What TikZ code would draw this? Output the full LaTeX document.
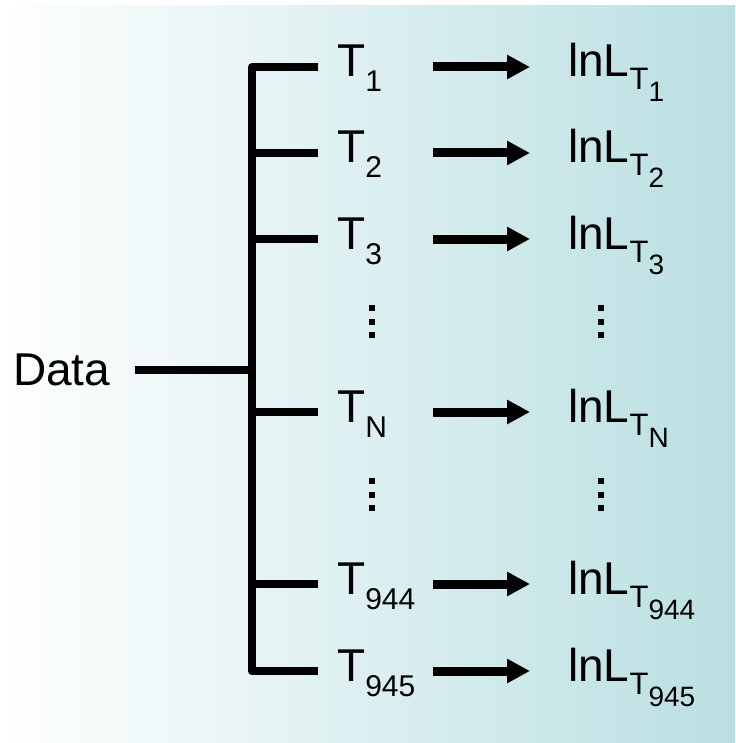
\documentclass[tikz,border=0pt]{standalone}
\usepackage{fontspec}
\setmainfont{Liberation Sans}
\usetikzlibrary{arrows.meta}
\definecolor{bgteal}{RGB}{186,223,226}
\newcommand{\bigfs}{\fontsize{46}{50}\selectfont}
\newcommand{\subT}[1]{\raisebox{-15pt}{\fontsize{30}{32}\selectfont #1}}
\newcommand{\lnLsub}[1]{lnL\raisebox{-13pt}{\fontsize{31}{32}\selectfont T\raisebox{-12pt}{\fontsize{28}{30}\selectfont #1}}}
\begin{document}
\begin{tikzpicture}[x=1pt,y=-1pt,
  lbl/.style={anchor=base west, inner sep=0pt, font=\bigfs},
  wire/.style={line width=8pt, line cap=butt},
  arr/.style={line width=9pt, -{Triangle[length=23pt,width=23pt]}},
  dot/.style={fill=black}]
\useasboundingbox (0,0) rectangle (735,743);
\fill[left color=white, right color=bgteal] (0,6) rectangle (735,743);

% data
\node[lbl] (data) at (13,385) {Data};
\coordinate (ds) at (135,370);
\coordinate (dj) at (252,370);
\draw[wire] (ds) -- (dj);

% rows
\foreach \k/\y/\s in {1/67/1, 2/153/2, 3/239/3, N/412/N, 944/584/944, 945/671/945}{
  \coordinate (b\k) at (252,\y);
  \coordinate (e\k) at (318,\y);
  \coordinate (a\k) at (433,\y);
  \coordinate (z\k) at (530,\y);
  \node[lbl] (t\k) at (337,\y+10) {T\subT{\s}};
  \node[lbl] (l\k) at (568,\y+10) {\lnLsub{\s}};
  \draw[arr] (a\k) -- (z\k);
}

% bracket
\draw[wire, line join=round] (e1) -- (b1) -- (b945) -- (e945);
\foreach \k in {2,3,N,944}{
  \draw[wire] (b\k) -- (e\k);
}

% dots
\foreach \cx in {372,601}{
  \foreach \cy in {308,322,335,481,495,508}{
    \fill[dot] (\cx-3,\cy-3) rectangle (\cx+3,\cy+3);
  }
}
\end{tikzpicture}
\end{document}
